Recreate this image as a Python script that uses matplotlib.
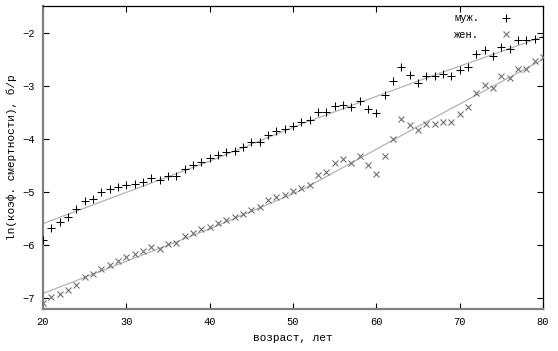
import matplotlib
matplotlib.use("Agg")
import matplotlib.pyplot as plt

# возраст, лет
ages = list(range(20, 81))

# ln(коэф. смертности) - мужчины
men = [-5.91, -5.68, -5.57, -5.48, -5.33, -5.18, -5.14, -5.01, -4.94, -4.90,
       -4.87, -4.85, -4.81, -4.74, -4.78, -4.71, -4.71, -4.57, -4.50, -4.43,
       -4.36, -4.30, -4.25, -4.22, -4.15, -4.06, -4.05, -3.92, -3.86, -3.82,
       -3.75, -3.69, -3.64, -3.50, -3.50, -3.38, -3.36, -3.40, -3.28, -3.43,
       -3.52, -3.18, -2.91, -2.64, -2.79, -2.94, -2.82, -2.81, -2.77, -2.81,
       -2.70, -2.64, -2.40, -2.32, -2.43, -2.26, -2.31, -2.14, -2.14, -2.11,
       -2.07]

# ln(коэф. смертности) - женщины
women = [-7.09, -6.99, -6.92, -6.86, -6.75, -6.61, -6.55, -6.45, -6.38, -6.30,
         -6.23, -6.17, -6.11, -6.04, -6.08, -5.98, -5.97, -5.84, -5.78, -5.70,
         -5.67, -5.59, -5.53, -5.48, -5.42, -5.34, -5.28, -5.16, -5.10, -5.06,
         -4.99, -4.93, -4.87, -4.68, -4.63, -4.46, -4.38, -4.46, -4.33, -4.50,
         -4.66, -4.33, -4.01, -3.63, -3.74, -3.84, -3.72, -3.72, -3.69, -3.69,
         -3.53, -3.40, -3.13, -2.98, -3.04, -2.81, -2.85, -2.68, -2.68, -2.53,
         -2.45]

# аппроксимирующие кривые
fit_ages = [20, 40, 51, 66, 80]
fit_men = [-5.60, -4.42, -3.72, -2.85, -2.07]
fit_women = [-6.92, -5.70, -4.97, -3.68, -2.50]

plt.rcParams['font.family'] = ['Liberation Mono', 'DejaVu Sans Mono']

fig = plt.figure(figsize=(5.58, 3.51), dpi=100)
ax = fig.add_axes([0.077, 0.120, 0.896, 0.863])

ax.plot(fit_ages, fit_men, color="#b4b4b4", lw=0.9, zorder=1)
ax.plot(fit_ages, fit_women, color="#b4b4b4", lw=0.9, zorder=1)
ax.plot(ages, men, ls="none", marker="+", ms=6, mew=0.75, color="black",
        label="муж.", zorder=3)
ax.plot(ages, women, ls="none", marker="x", ms=5, mew=0.8, color="#707070",
        label="жен.", zorder=3)

ax.set_xlim(20, 80)
ax.set_ylim(-7.21, -1.49)
ax.set_xticks(range(20, 81, 10))
ax.set_yticks(range(-7, -1))
ax.set_yticklabels(["\u22127", "\u22126", "\u22125", "\u22124", "\u22123", "\u22122"])

ax.tick_params(direction="in", top=True, right=True, length=4, width=0.8,
               labelsize=7.5, pad=6)
for side in ("left", "bottom"):
    ax.spines[side].set_color("#808080")
    ax.spines[side].set_linewidth(1.6)
for side in ("top", "right"):
    ax.spines[side].set_linewidth(0.9)

ax.set_xlabel("возраст, лет", fontsize=8, labelpad=4)
ax.set_ylabel("ln(коэф. смертности), б/р", fontsize=8, labelpad=4)

leg = ax.legend(loc="upper right", bbox_to_anchor=(0.962, 1.0), frameon=False,
                fontsize=7.5, markerfirst=False, handlelength=2.0,
                handletextpad=1.6, borderaxespad=0.3, labelspacing=0.6)

fig.savefig("out.png", dpi=100)
